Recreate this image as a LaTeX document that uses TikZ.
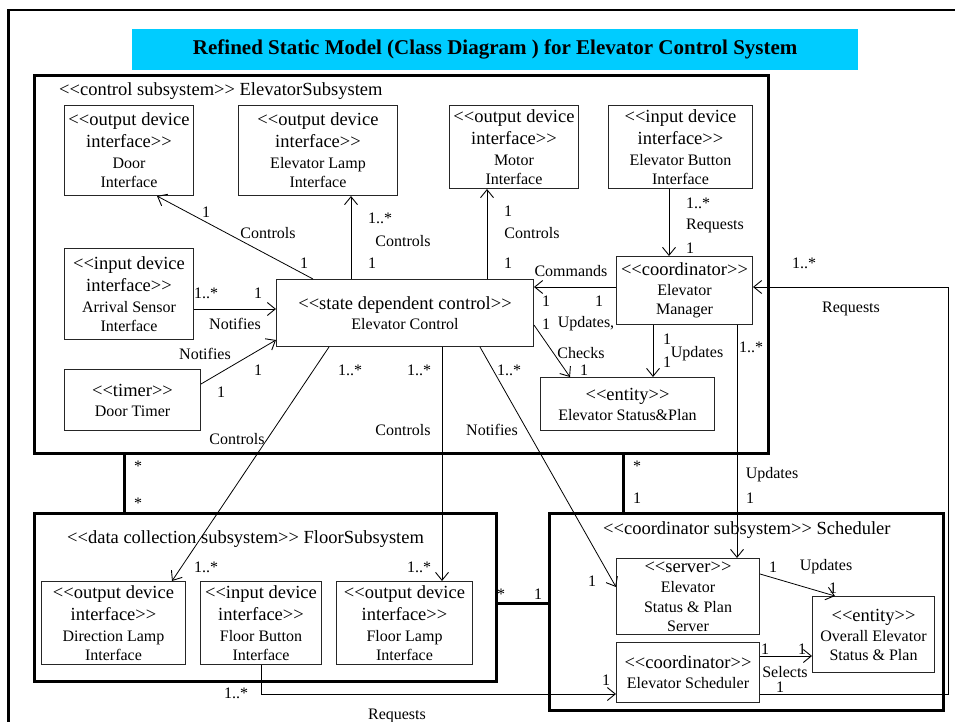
\documentclass[tikz,border=0pt]{standalone}
\usepackage{fontspec}
\setmainfont{Liberation Serif}[Ligatures=TeXOff]
\usetikzlibrary{arrows.meta}
\definecolor{titlebg}{RGB}{0,204,255}
\newcommand\stfont{\fontsize{18.5}{22}\selectfont}
\newcommand\nmfont{\fontsize{16}{19}\selectfont}
\tikzset{
  cls/.style={draw=black!85, line width=1pt, inner sep=0pt, align=center, font=\nmfont, anchor=north west},
  subsys/.style={draw, line width=3pt, inner sep=0pt, anchor=north west},
  lbl/.style={font=\nmfont, inner sep=0pt},
  assoc/.style={draw, line width=0.8pt},
  nav/.style={assoc, -{Straight Barb[length=8pt,width=13pt,line width=0.9pt]}},
  link/.style={line width=3pt},
}
\begin{document}
\begin{tikzpicture}[x=1pt, y=-1pt]
\useasboundingbox (0,0) rectangle (955,722);

% outer frame
\draw[line width=2.5pt] (8.5,722) -- (8.5,10) -- (955,10);

% title banner
\node[fill=titlebg, minimum width=726, minimum height=41, anchor=north west, inner sep=0pt,
      font=\fontsize{21}{24}\selectfont\bfseries] (title) at (132,29)
  {Refined Static Model (Class Diagram ) for Elevator Control System};

% subsystems
\node[subsys, minimum width=734, minimum height=378] (esub) at (33,74) {};
\node[subsys, minimum width=462, minimum height=168] (fsub) at (33,512) {};
\node[subsys, minimum width=394, minimum height=197] (ssub) at (548,512) {};
\node[lbl, font=\stfont, anchor=west] (esubt) at (59,91) {<<control subsystem>> ElevatorSubsystem};
\node[lbl, font=\stfont, anchor=west] (fsubt) at (67,539) {<<data collection subsystem>> FloorSubsystem};
\node[lbl, font=\stfont, anchor=west] (ssubt) at (603,530) {<<coordinator subsystem>> Scheduler};

% classes of the elevator subsystem
\node[cls, minimum width=129, minimum height=90] (door) at (64,105)
  {{\stfont <<output device}\\[3pt]{\stfont interface>>}\\[2pt]Door\\Interface};
\node[cls, minimum width=159, minimum height=90] (elamp) at (238,105)
  {{\stfont <<output device}\\[3pt]{\stfont interface>>}\\[2pt]Elevator Lamp\\Interface};
\node[cls, minimum width=129, minimum height=83] (motor) at (449,105)
  {{\stfont <<output device}\\[3pt]{\stfont interface>>}\\[2pt]Motor\\Interface};
\node[cls, minimum width=144, minimum height=83] (ebtn) at (608,105)
  {{\stfont <<input device}\\[3pt]{\stfont interface>>}\\[2pt]Elevator Button\\Interface};
\node[cls, minimum width=129, minimum height=91] (arr) at (64,248)
  {{\stfont <<input device}\\[3pt]{\stfont interface>>}\\[2pt]Arrival Sensor\\Interface};
\node[cls, minimum width=136, minimum height=61] (timer) at (64,369)
  {{\stfont <<timer>>}\\[1pt]Door Timer};
\node[cls, minimum width=257, minimum height=67] (ctrl) at (276,279)
  {{\stfont <<state dependent control>>}\\[1pt]Elevator Control};
\node[cls, minimum width=136, minimum height=68] (mgr) at (616,256)
  {{\stfont <<coordinator>>}\\[1pt]Elevator\\Manager};
\node[cls, minimum width=174, minimum height=53] (stat) at (540,377)
  {{\stfont <<entity>>}\\[1pt]Elevator Status\&Plan};

% classes of the floor subsystem
\node[cls, minimum width=144, minimum height=83] (dlamp) at (41,581)
  {{\stfont <<output device}\\[3pt]{\stfont interface>>}\\[2pt]Direction Lamp\\Interface};
\node[cls, minimum width=121, minimum height=83] (fbtn) at (200,581)
  {{\stfont <<input device}\\[3pt]{\stfont interface>>}\\[2pt]Floor Button\\Interface};
\node[cls, minimum width=136, minimum height=83] (flamp) at (336,581)
  {{\stfont <<output device}\\[3pt]{\stfont interface>>}\\[2pt]Floor Lamp\\Interface};

% classes of the scheduler
\node[cls, minimum width=143, minimum height=76] (srv) at (616,558)
  {{\stfont <<server>>}\\[1pt]Elevator\\[1pt]Status \& Plan\\Server};
\node[cls, minimum width=122, minimum height=76] (ovr) at (812,596)
  {{\stfont <<entity>>}\\[1pt]Overall Elevator\\Status \& Plan};
\node[cls, minimum width=143, minimum height=60] (esch) at (616,642)
  {{\stfont <<coordinator>>}\\[1pt]Elevator Scheduler};

% links between subsystems
\draw[link] (esub.south -| 124,0) -- (fsub.north -| 124,0);
\draw[link] (esub.south -| 623,0) -- (ssub.north -| 623,0);
\draw[link] (fsub.east |- 0,603) -- (ssub.west |- 0,603);

% associations
\draw[nav] (ctrl.north -| 313,0) -- (door.south -| 157,0);
\draw[nav] (ctrl.north -| 351,0) -- (elamp.south -| 351,0);
\draw[nav] (ctrl.north -| 487,0) -- (motor.south -| 487,0);
\draw[nav] (ebtn.south -| 669,0) -- (mgr.north -| 669,0);
\draw[nav] (mgr.west |- 0,287) -- (ctrl.east |- 0,287);
\draw[nav] (ctrl.east |- 0,325) -- (stat.north -| 570,0);
\draw[nav] (mgr.south -| 653,0) -- (stat.north -| 653,0);
\draw[nav] (arr.east |- 0,309) -- (ctrl.west |- 0,309);
\draw[nav] (timer.east |- 0,384) -- (ctrl.west |- 0,340);
\draw[nav] (ctrl.south -| 329,0) -- (dlamp.north -| 172,0);
\draw[nav] (ctrl.south -| 442,0) -- (flamp.north -| 442,0);
\draw[nav] (ctrl.south -| 480,0) -- (srv.west |- 0,587);
\draw[nav] (mgr.south -| 737,0) -- (srv.north -| 737,0);
\draw[nav] (srv.east |- 0,574) -- (ovr.north -| 835,0);
\draw[nav] (esch.east |- 0,656) -- (ovr.west |- 0,656);
\coordinate (rq) at (948,287);
\draw[nav] (esch.east |- 0,694) -| (rq) -- (mgr.east |- rq);
\draw[nav] (fbtn.south) |- (esch.west |- 0,694);

% multiplicities and association names
\node[lbl] (m1) at (206,212) {1};
\node[lbl] (a1) at (268,233) {Controls};
\node[lbl] (m2) at (304,263) {1};
\node[lbl] (m3) at (380,218) {1..*};
\node[lbl] (a2) at (403,241) {Controls};
\node[lbl] (m4) at (372,263) {1};
\node[lbl] (m5) at (508,211) {1};
\node[lbl] (a3) at (532,233) {Controls};
\node[lbl] (m6) at (508,263) {1};
\node[lbl] (m7) at (698,203) {1..*};
\node[lbl] (a4) at (715,226) {Requests};
\node[lbl] (m8) at (690,248) {1};
\node[lbl] (a5) at (571,271) {Commands};
\node[lbl] (m9) at (546,301) {1};
\node[lbl] (m10) at (599,301) {1};
\node[lbl] (m11) at (546,324) {1};
\node[lbl] (a6) at (586,324) {Updates,};
\node[lbl] (a7) at (581,353) {Checks};
\node[lbl] (m12) at (584,370) {1};
\node[lbl] (m13) at (667,339) {1};
\node[lbl] (a8) at (697,354) {Updates};
\node[lbl] (m14) at (667,362) {1};
\node[lbl] (m15) at (751,347) {1..*};
\node[lbl] (m16) at (804,263) {1..*};
\node[lbl] (a9) at (851,309) {Requests};
\node[lbl] (m17) at (206,293) {1..*};
\node[lbl] (m18) at (258,293) {1};
\node[lbl] (a10) at (235,324) {Notifies};
\node[lbl] (a11) at (205,354) {Notifies};
\node[lbl] (m19) at (258,370) {1};
\node[lbl] (m20) at (221,392) {1};
\node[lbl] (m21) at (350,370) {1..*};
\node[lbl] (m22) at (419,370) {1..*};
\node[lbl] (m23) at (509,370) {1..*};
\node[lbl] (a12) at (237,439) {Controls};
\node[lbl] (a13) at (403,430) {Controls};
\node[lbl] (a14) at (492,430) {Notifies};
\node[lbl] (m24) at (206,567) {1..*};
\node[lbl] (m25) at (419,567) {1..*};
\node[lbl] (m26) at (592,581) {1};
\node[lbl] (m27) at (138,466) {*};
\node[lbl] (m28) at (138,503) {*};
\node[lbl] (m29) at (637,466) {*};
\node[lbl] (m30) at (637,498) {1};
\node[lbl] (m31) at (501,594) {*};
\node[lbl] (m32) at (538,594) {1};
\node[lbl] (a15) at (772,475) {Updates};
\node[lbl] (m33) at (750,498) {1};
\node[lbl] (m34) at (773,567) {1};
\node[lbl] (a16) at (826,567) {Updates};
\node[lbl] (m35) at (833,588) {1};
\node[lbl] (m36) at (765,649) {1};
\node[lbl] (m37) at (802,649) {1};
\node[lbl] (a17) at (785,672) {Selects};
\node[lbl] (m38) at (780,687) {1};
\node[lbl] (m39) at (236,693) {1..*};
\node[lbl] (a18) at (397,716) {Requests};
\node[lbl] (m40) at (606,680) {1};
\end{tikzpicture}
\end{document}
